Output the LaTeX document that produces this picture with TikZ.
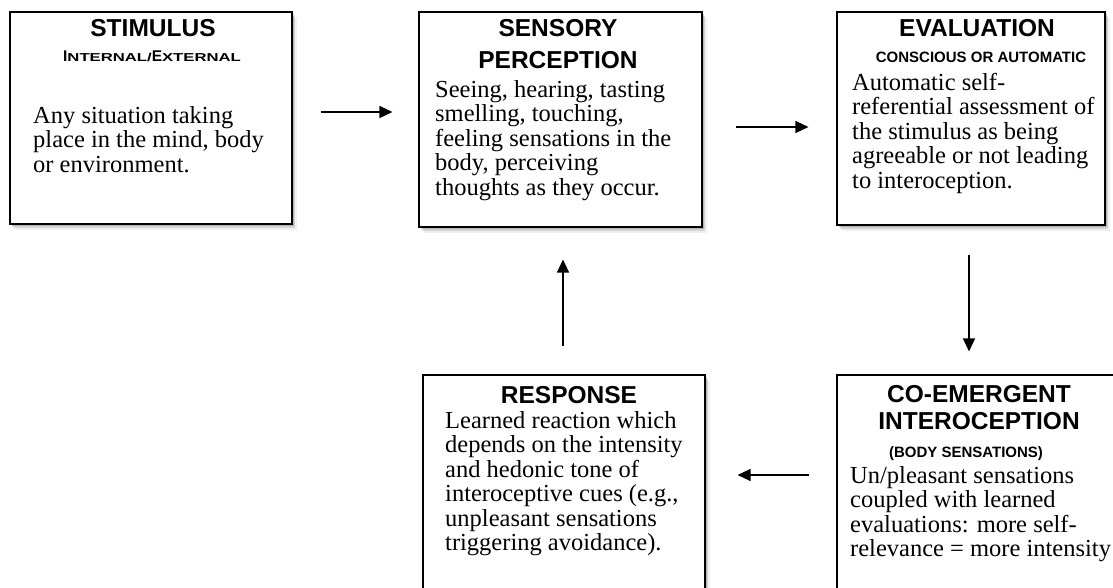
\documentclass[tikz,border=0pt]{standalone}
\usepackage{fontspec}
\setmainfont{Liberation Serif}
\newfontfamily\headfont{Liberation Sans}
\newfontfamily\headwide{Liberation Sans}[FakeStretch=1.45]
\usetikzlibrary{positioning, arrows.meta, shadows}

\newcommand{\capsmall}[1]{{\headwide\bfseries\fontsize{11.5}{11.5}\selectfont #1}}
\newcommand{\capbig}[1]{{\headfont\bfseries\fontsize{15.5}{15.5}\selectfont #1}}

\tikzset{
    stage/.style={draw=black, line width=1.1pt, fill=white, inner sep=0pt,
        drop shadow={shadow xshift=1.5pt, shadow yshift=-2pt, opacity=.40},
        drop shadow={shadow xshift=3pt, shadow yshift=-4pt, opacity=.25},
        drop shadow={shadow xshift=4.5pt, shadow yshift=-6pt, opacity=.12}},
    head/.style={font=\headfont\bfseries\fontsize{24.5}{32.5}\selectfont,
        anchor=base, inner sep=0pt, align=center},
    sub/.style={font=\headfont\bfseries\fontsize{15}{15}\selectfont,
        anchor=base, inner sep=0pt},
    body/.style={font=\fontsize{24.5}{24.5}\selectfont, anchor=base west,
        inner sep=0pt, align=left},
    flow/.style={line width=1.3pt, -{Triangle[length=13pt, width=12pt]}}
}

\begin{document}
\begin{tikzpicture}[x=1pt, y=-1pt]
    \useasboundingbox (0,0) rectangle (1113,587);
    \clip (0,0) rectangle (1113,587);

    % the five boxes
    \node[stage, minimum width=282pt, minimum height=212pt] (stim) at (151,118) {};
    \node[stage, minimum width=283pt, minimum height=215pt] (sens) at (560.5,119.5) {};
    \node[stage, minimum width=268pt, minimum height=213pt] (eval) at (971,118.5) {};
    \node[stage, minimum width=282pt, minimum height=225pt] (resp) at (564,487.5) {};
    \node[stage, minimum width=288pt, minimum height=225pt] (coem) at (981,487.5) {};

    % stimulus (multi-line texts sit on the baseline of their last line)
    \node[head] (stimHead) at (153,36) {STIMULUS};
    \node[anchor=base, inner sep=0pt] (stimSub) at (152,61)
        {\capbig{I}\capsmall{NTERNAL/}\capbig{E}\capsmall{XTERNAL}};
    \node[body] (stimText) at (33,172)
        {Any situation taking\\place in the mind, body\\or environment.};

    % sensory perception
    \node[head] (sensHead) at (558,68.5) {SENSORY\\PERCEPTION};
    \node[body] (sensText) at (435,195)
        {Seeing, hearing, tasting\\smelling, touching,\\feeling sensations in the\\body, perceiving\\thoughts as they occur.};

    % evaluation
    \node[head] (evalHead) at (977,36) {EVALUATION};
    \node[sub] (evalSub) at (981,62) {CONSCIOUS OR AUTOMATIC};
    \node[body] (evalText) at (852,188)
        {Automatic self-\\referential assessment of\\the stimulus as being\\agreeable or not leading\\to interoception.};

    % response
    \node[head] (respHead) at (569,403) {RESPONSE};
    \node[body] (respText) at (445,550.5)
        {Learned reaction which\\depends on the intensity\\and hedonic tone of\\interoceptive cues (e.g.,\\unpleasant sensations\\triggering avoidance).};

    % co-emergent interoception
    \node[head, font=\headfont\bfseries\fontsize{24.5}{27}\selectfont] (coemHead) at (979,429)
        {CO-EMERGENT\\INTEROCEPTION};
    \node[sub] (coemSub) at (966,457) {(BODY SENSATIONS)};
    \node[body] (coemText) at (850,556.5)
        {Un/pleasant sensations\\coupled with learned\\evaluations: more self-\\relevance = more intensity};

    % connectors
    \draw[flow, shorten <=28pt, shorten >=26pt] ([yshift=6pt]stim.east) -- ([yshift=6pt]stim.east -| sens.west);
    \draw[flow, shorten <=33pt, shorten >=28pt] ([yshift=-7.5pt]sens.east) -- ([yshift=-7.5pt]sens.east -| eval.west);
    \draw[flow, shorten <=29pt, shorten >=23pt] ([xshift=-2pt]eval.south) -- ([xshift=-2pt]eval.south |- coem.north);
    \draw[flow, shorten <=27pt, shorten >=32pt] ([yshift=12.5pt]coem.west) -- ([yshift=12.5pt]coem.west -| resp.east);
    \draw[flow, shorten <=28pt, shorten >=32pt] ([xshift=-1pt]resp.north) -- ([xshift=-1pt]resp.north |- sens.south);
\end{tikzpicture}
\end{document}
